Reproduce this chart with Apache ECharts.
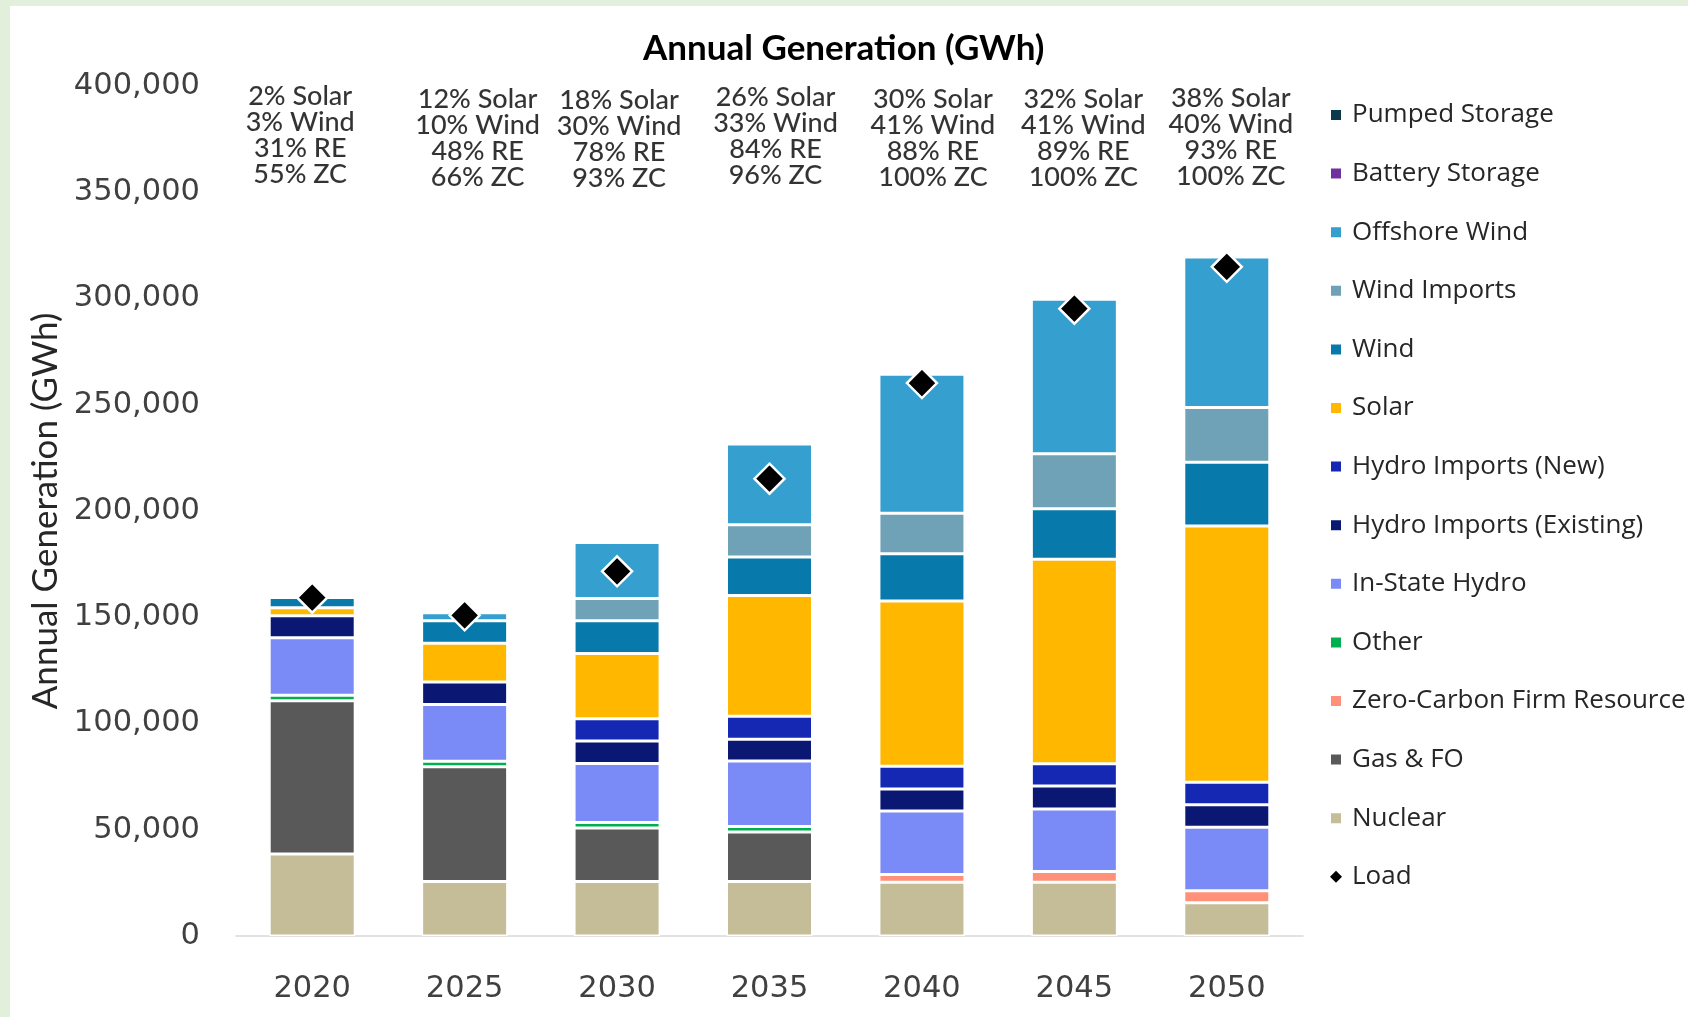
<!DOCTYPE html>
<html>
<head>
<meta charset="utf-8">
<title>Annual Generation (GWh)</title>
<script src="https://cdn.jsdelivr.net/npm/echarts@6/dist/echarts.min.js"></script>
<style>
  html, body { margin: 0; padding: 0; background: #e2efda; }
  #chart { position: absolute; left: 10px; top: 6px; width: 1678px; height: 1011px; background: #fff; }
</style>
</head>
<body>
<div id="chart"></div>
<script>
// categories
const years = ['2020', '2025', '2030', '2035', '2040', '2045', '2050'];

// generation by resource, GWh (stack order, bottom to top)
const nuclear        = [38600, 25600, 25600, 25600, 25300, 25300, 15600];
const gasFO          = [72100, 54000, 25200, 23300, 0, 0, 0];
const zeroCarbonFirm = [0, 0, 0, 0, 3700, 5000, 5700];
const other          = [2600, 2600, 2600, 2600, 0, 0, 0];
const inStateHydro   = [27000, 26800, 27800, 30900, 29800, 29500, 29900];
const hydroExisting  = [10400, 10500, 10600, 10200, 10400, 10800, 10600];
const hydroNew       = [0, 0, 10400, 10800, 10700, 10500, 10500];
const solar          = [3800, 18300, 30700, 56800, 77800, 96200, 120700];
const wind           = [4800, 10600, 15500, 18100, 22200, 23800, 29900];
const windImports    = [0, 0, 10400, 15200, 19100, 25800, 25800];
const offshoreWind   = [0, 3700, 26400, 38000, 65300, 72700, 70800];
const battery        = [0, 0, 0, 0, 0, 0, 0];
const pumped         = [0, 0, 0, 0, 0, 0, 0];

// load, GWh
const load = [159200, 150900, 171600, 215200, 260200, 295200, 314900];

// text over each bar
const shares = [
  '2% Solar\n3% Wind\n31% RE\n55% ZC',
  '12% Solar\n10% Wind\n48% RE\n66% ZC',
  '18% Solar\n30% Wind\n78% RE\n93% ZC',
  '26% Solar\n33% Wind\n84% RE\n96% ZC',
  '30% Solar\n41% Wind\n88% RE\n100% ZC',
  '32% Solar\n41% Wind\n89% RE\n100% ZC',
  '38% Solar\n40% Wind\n93% RE\n100% ZC'
];
const shareAnchor = 376000;
// text boxes sit a little off the bar centres in the original
const shareOffsets = [[-12, -2], [13, 1], [2, 2], [6, -1], [11, 1], [9, 1], [4, 0]];

const resources = [
  { name: 'Nuclear', data: nuclear, color: '#c4bd97' },
  { name: 'Gas & FO', data: gasFO, color: '#595959' },
  { name: 'Zero-Carbon Firm Resource', data: zeroCarbonFirm, color: '#ff917a' },
  { name: 'Other', data: other, color: '#00b050' },
  { name: 'In-State Hydro', data: inStateHydro, color: '#7a8bf8' },
  { name: 'Hydro Imports (Existing)', data: hydroExisting, color: '#0a1874' },
  { name: 'Hydro Imports (New)', data: hydroNew, color: '#1428b4' },
  { name: 'Solar', data: solar, color: '#ffb700' },
  { name: 'Wind', data: wind, color: '#0779aa' },
  { name: 'Wind Imports', data: windImports, color: '#6fa2b6' },
  { name: 'Offshore Wind', data: offshoreWind, color: '#359fcf' },
  { name: 'Battery Storage', data: battery, color: '#7030a0' },
  { name: 'Pumped Storage', data: pumped, color: '#0b3a4c' }
];

const calibri = 'Lato, "Open Sans", sans-serif';
const chart = echarts.init(document.getElementById('chart'));

const barSeries = resources.map(function (r) {
  return {
    name: r.name,
    type: 'bar',
    stack: 'gen',
    barWidth: 86,
    data: r.data,
    itemStyle: { color: r.color, borderColor: '#ffffff', borderWidth: 1.5 }
  };
});

const legendData = resources.slice().reverse().map(function (r) {
  return { name: r.name, icon: 'rect' };
});
legendData.push({ name: 'Load', icon: 'diamond', itemStyle: { borderWidth: 0, opacity: 1 } });

chart.setOption({
  animation: false,
  title: {
    text: 'Annual Generation (GWh)',
    left: 628,
    top: 20,
    textStyle: { fontFamily: calibri, fontSize: 35, fontWeight: 'bold', color: '#000' }
  },
  legend: {
    orient: 'vertical',
    left: 1314,
    top: 91,
    itemWidth: 12,
    itemHeight: 12,
    itemGap: 32.6,
    data: legendData,
    textStyle: {
      fontFamily: '"Open Sans", sans-serif', fontSize: 26, color: '#262626',
      lineHeight: 26, padding: [0, 0, 0, 5]
    }
  },
  grid: { left: 226, right: 385, top: 80, bottom: 81 },
  xAxis: {
    type: 'category',
    data: years,
    axisTick: { show: false },
    axisLine: { lineStyle: { color: '#d9d9d9', width: 1.5 } },
    axisLabel: { fontFamily: '"DejaVu Sans", sans-serif', fontSize: 30.5, color: '#404040', margin: 38 }
  },
  yAxis: {
    type: 'value',
    min: 0,
    max: 400000,
    interval: 50000,
    name: 'Annual Generation (GWh)',
    nameLocation: 'middle',
    nameGap: 171,
    nameTextStyle: { fontFamily: calibri, fontSize: 35, color: '#262626' },
    splitLine: { show: false },
    axisLine: { show: false },
    axisTick: { show: false },
    axisLabel: {
      fontFamily: '"DejaVu Sans", sans-serif',
      fontSize: 30.5,
      color: '#404040',
      margin: 36,
      formatter: function (v) { return v.toLocaleString('en-US'); }
    }
  },
  series: barSeries.concat([
    {
      name: 'Load',
      type: 'scatter',
      symbol: 'diamond',
      symbolSize: 30,
      z: 5,
      data: load,
      itemStyle: { color: '#000', opacity: 1, borderColor: '#fff', borderWidth: 2.5 }
    },
    {
      name: 'shares',
      type: 'scatter',
      symbolSize: 0,
      silent: true,
      data: years.map(function (y, i) {
        return { value: [y, shareAnchor, shares[i]], label: { offset: shareOffsets[i] } };
      }),
      label: {
        show: true,
        position: 'inside',
        formatter: function (p) { return p.value[2]; },
        fontFamily: calibri,
        fontSize: 27,
        fontWeight: 500,
        lineHeight: 26,
        color: '#000',
        align: 'center'
      }
    }
  ])
});
</script>
</body>
</html>
